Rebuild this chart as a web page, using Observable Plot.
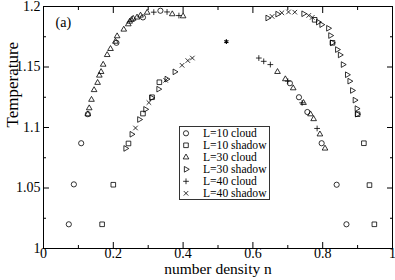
<!DOCTYPE html>
<html><head><meta charset="utf-8">
<script src="https://cdn.jsdelivr.net/npm/d3@7"></script>
<script src="https://cdn.jsdelivr.net/npm/@observablehq/plot@0.6"></script>
<style>body{margin:0;background:#fff} #chart{width:395px;height:280px}</style>
</head><body><div id="chart"></div><script>
// ---- data: [number density n, Temperature] ----
const L10_cloud = [[0.0725,1.020],[0.087,1.053],[0.108,1.087],[0.127,1.111],[0.209,1.170],[0.285,1.191],[0.335,1.1965],
  [0.706,1.1366],[0.732,1.125],[0.756,1.1128],[0.797,1.087],[0.840,1.0527],[0.868,1.020]];
const L10_shadow = [[0.168,1.020],[0.200,1.0527],[0.2435,1.0868],[0.285,1.1115],[0.311,1.125],[0.332,1.1374],
  [0.948,1.020],[0.934,1.0524],[0.918,1.087],[0.900,1.111],[0.828,1.170],[0.777,1.189]];
const L30_cloud = [[0.127,1.111],[0.131,1.116],[0.1375,1.123],[0.145,1.131],[0.155,1.137],[0.160,1.143],[0.165,1.146],
  [0.171,1.152],[0.1825,1.160],[0.192,1.165],[0.206,1.171],[0.211,1.1755],[0.230,1.181],[0.243,1.1854],[0.247,1.1876],
  [0.252,1.189],[0.257,1.190],[0.268,1.191],[0.278,1.1926],[0.297,1.195],[0.369,1.1937],[0.400,1.192],
  [0.6705,1.146],[0.693,1.140],[0.7155,1.1325],[0.745,1.1204],[0.765,1.111],[0.774,1.107],[0.792,1.0944],[0.8066,1.0827]];
const L30_shadow = [[0.235,1.0827],[0.2527,1.0944],[0.2745,1.1066],[0.292,1.115],[0.3095,1.1245],[0.3295,1.1317],[0.353,1.140],[0.376,1.146],
  [0.899,1.111],[0.8977,1.1156],[0.892,1.1226],[0.8845,1.1306],[0.877,1.1383],[0.870,1.1436],[0.858,1.152],[0.8496,1.160],
  [0.8415,1.1644],[0.827,1.170],[0.822,1.176],[0.816,1.182],[0.7966,1.185],[0.787,1.1871],[0.745,1.194],[0.6705,1.1937],[0.642,1.1905]];
const L40_cloud = [[0.316,1.1953],[0.354,1.1955],[0.388,1.1925],
  [0.617,1.1574],[0.631,1.1547],[0.650,1.152],[0.700,1.1383],[0.741,1.1204],[0.784,1.0992]];
const L40_shadow = [[0.4265,1.1574],[0.4135,1.1553],[0.397,1.1514],[0.350,1.139],[0.302,1.1206],[0.2636,1.0996],
  [0.655,1.1918],[0.683,1.1948],[0.702,1.1955],[0.720,1.1953],[0.760,1.1926],[0.770,1.191]];
const criticalPoint = [[0.524,1.171]];

const seriesNames = ["L=10 cloud","L=10 shadow","L=30 cloud","L=30 shadow","L=40 cloud","L=40 shadow"];
const xMajor = [0,0.2,0.4,0.6,0.8,1];
const xMajorLabels = ["0","0.2","0.4","0.6","0.8","1"];
const xMinor = [0.1,0.3,0.5,0.7,0.9];
const yMajor = [1,1.05,1.1,1.15,1.2];
const yMajorLabels = ["1","1.05","1.1","1.15","1.2"];
const yMinor = [1.025,1.075,1.125,1.175];

// ---- styles ----
const seriesData = [L10_cloud,L10_shadow,L30_cloud,L30_shadow,L40_cloud,L40_shadow];
const styles = [
  {symbol:"circle", d3s:d3.symbolCircle, r:2.6, rotate:0},
  {symbol:"square", d3s:d3.symbolSquare, r:2.6, rotate:0},
  {symbol:"triangle", d3s:d3.symbolTriangle, r:2.1, rotate:0},
  {symbol:"triangle", d3s:d3.symbolTriangle, r:2.1, rotate:90},
  {symbol:"plus", d3s:d3.symbolPlus, r:2.0, rotate:0},
  {symbol:"times", d3s:d3.symbolTimes, r:2.2, rotate:0}
];
const fmtX = d => xMajorLabels[xMajor.indexOf(d)] ?? "";
const fmtY = d => yMajorLabels[yMajor.indexOf(d)] ?? "";
const blank = () => "";

const dots = seriesData.map((data,i) => Plot.dot(data, {
  x: d => d[0], y: d => d[1], symbol: styles[i].symbol, r: styles[i].r, rotate: styles[i].rotate,
  fill: "none", stroke: "black", strokeWidth: 0.8
}));

const plot = Plot.plot({
  width: 395, height: 280,
  marginLeft: 43, marginRight: 3, marginTop: 6, marginBottom: 32,
  style: {fontFamily: "'Liberation Serif', serif", fontSize: "14px", background: "white", color: "black"},
  x: {domain: [0,1]},
  y: {domain: [1,1.2]},
  marks: [
    Plot.axisX(xMajor, {anchor:"bottom", tickSize:-6, tickPadding:6, tickFormat: fmtX, label: null}),
    Plot.axisX(xMinor, {anchor:"bottom", tickSize:-3, tickFormat: blank, label: null}),
    Plot.axisX(xMajor, {anchor:"top", tickSize:-6, tickFormat: blank, label: null}),
    Plot.axisX(xMinor, {anchor:"top", tickSize:-3, tickFormat: blank, label: null}),
    Plot.axisY(yMajor, {anchor:"left", tickSize:-6, tickPadding:9, tickFormat: fmtY, label: null}),
    Plot.axisY(yMinor, {anchor:"left", tickSize:-3, tickFormat: blank, label: null}),
    Plot.axisY(yMajor, {anchor:"right", tickSize:-6, tickFormat: blank, label: null}),
    Plot.axisY(yMinor, {anchor:"right", tickSize:-3, tickFormat: blank, label: null}),
    Plot.frame({stroke: "black"}),
    ...dots,
    Plot.dot(criticalPoint, {x: d => d[0], y: d => d[1], symbol: "asterisk", r: 2.2, stroke: "black", strokeWidth: 1.2}),
    Plot.text(["(a)"], {text: d => d, frameAnchor: "top-left", dx: 12, dy: 11, textAnchor: "start", fontSize: 14}),
    Plot.text(["number density n"], {text: d => d, frameAnchor: "bottom", dy: 25, fontSize: 15.5}),
    Plot.text(["Temperature"], {text: d => d, frameAnchor: "left", dx: -31, rotate: -90, fontSize: 17})
  ]
});
document.getElementById("chart").appendChild(plot);

// ---- legend box inside the plot ----
const svg = d3.select(plot);
const lg = svg.append("g").attr("text-anchor", "start");
lg.append("rect").attr("x", 179.5).attr("y", 126.5).attr("width", 90).attr("height", 73)
  .attr("fill", "white").attr("stroke", "#333").attr("stroke-width", 1);
seriesNames.forEach((name, i) => {
  const cy = 133.3 + i * 12;
  const s = styles[i];
  lg.append("path").attr("d", d3.symbol(s.d3s, Math.PI * s.r * s.r)())
    .attr("transform", `translate(186,${cy}) rotate(${s.rotate})`)
    .attr("fill", "none").attr("stroke", "black").attr("stroke-width", 0.8);
  lg.append("text").attr("x", 203).attr("y", cy).attr("dy", "0.35em").attr("text-anchor", "start")
    .attr("font-size", "11.6px").attr("fill", "black").text(name);
});
</script></body></html>
